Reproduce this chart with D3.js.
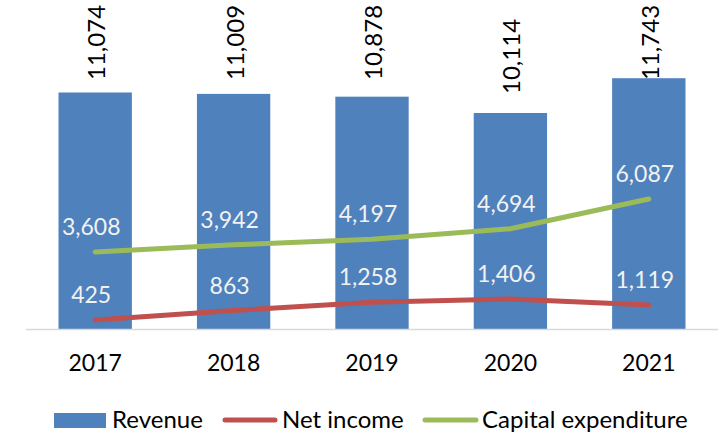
<!DOCTYPE html>
<html>
<head>
<meta charset="utf-8">
<script src="https://cdn.jsdelivr.net/npm/d3@7"></script>
<style>
  body { margin: 0; background: #fff; }
  text { font-family: Lato, "Open Sans", sans-serif; }
</style>
</head>
<body>
<div id="chart"></div>
<script>
var years = ["2017", "2018", "2019", "2020", "2021"];
var revenue = [11074, 11009, 10878, 10114, 11743];
var netIncome = [425, 863, 1258, 1406, 1119];
var capex = [3608, 3942, 4197, 4694, 6087];

var width = 726, height = 436;
var plotLeft = 26, plotRight = 718, plotTop = 30, plotBottom = 329;

var svg = d3.select("#chart")
  .append("svg")
  .attr("width", width)
  .attr("height", height);

var x = d3.scaleBand()
  .domain(years)
  .range([plotLeft, plotRight])
  .paddingInner(0.47)
  .paddingOuter(0.235);

var y = d3.scaleLinear()
  .domain([0, 14000])
  .range([plotBottom, plotTop]);

var fmt = d3.format(",");

function cx(d, i) { return x(years[i]) + x.bandwidth() / 2; }

// bars
svg.selectAll(".bar")
  .data(revenue)
  .enter().append("rect")
  .attr("class", "bar")
  .attr("x", function(d, i) { return x(years[i]); })
  .attr("y", function(d) { return y(d); })
  .attr("width", x.bandwidth())
  .attr("height", function(d) { return plotBottom - y(d); })
  .style("fill", "#4f81bd");

// axis line
svg.append("line")
  .attr("x1", plotLeft)
  .attr("x2", plotRight)
  .attr("y1", plotBottom + 0.5)
  .attr("y2", plotBottom + 0.5)
  .style("stroke", "#d9d9d9")
  .style("stroke-width", 1.5);

// x axis labels
var xAxis = d3.axisBottom(x).tickSize(0).tickPadding(26);
var gx = svg.append("g")
  .attr("transform", "translate(0," + plotBottom + ")")
  .call(xAxis);
gx.select(".domain").remove();
gx.selectAll("text")
  .style("font-family", "Lato, sans-serif")
  .style("font-size", "23px")
  .style("fill", "#000");

// revenue labels (rotated), kept inside the top of the chart like Excel does
svg.selectAll(".revLabel")
  .data(revenue)
  .enter().append("text")
  .attr("class", "revLabel")
  .attr("transform", function(d, i) {
    var ty = Math.max(y(d) - 19, 80);
    return "translate(" + (cx(d, i) + 10) + "," + ty + ") rotate(-90)";
  })
  .attr("text-anchor", "start")
  .style("font-size", "24px")
  .style("fill", "#000")
  .text(function(d) { return fmt(d); });

var line = d3.line()
  .x(function(d, i) { return cx(d, i); })
  .y(function(d) { return y(d); });

function drawSeries(values, color) {
  svg.append("path")
    .datum(values)
    .attr("d", line)
    .style("fill", "none")
    .style("stroke", color)
    .style("stroke-width", 5)
    .style("stroke-linecap", "round")
    .style("stroke-linejoin", "round");
  svg.selectAll(null)
    .data(values)
    .enter().append("text")
    .attr("x", function(d, i) { return cx(d, i) - 4; })
    .attr("y", function(d) { return y(d) - 17; })
    .attr("text-anchor", "middle")
    .style("font-size", "23px")
    .style("fill", "#f2f2f2")
    .text(function(d) { return fmt(d); });
}

drawSeries(netIncome, "#c0504d");
drawSeries(capex, "#9bbb59");

// legend
var legend = svg.append("g");
legend.append("rect")
  .attr("x", 54).attr("y", 413)
  .attr("width", 52).attr("height", 15)
  .style("fill", "#4f81bd");
legend.append("text")
  .attr("x", 112).attr("y", 428)
  .style("font-size", "24px")
  .text("Revenue");

legend.append("line")
  .attr("x1", 225).attr("x2", 275)
  .attr("y1", 420).attr("y2", 420)
  .style("stroke", "#c0504d")
  .style("stroke-width", 5)
  .style("stroke-linecap", "round");
legend.append("text")
  .attr("x", 282).attr("y", 428)
  .style("font-size", "24px")
  .text("Net income");

legend.append("line")
  .attr("x1", 425).attr("x2", 476)
  .attr("y1", 420).attr("y2", 420)
  .style("stroke", "#9bbb59")
  .style("stroke-width", 5)
  .style("stroke-linecap", "round");
legend.append("text")
  .attr("x", 482).attr("y", 428)
  .style("font-size", "24px")
  .text("Capital expenditure");
</script>
</body>
</html>
